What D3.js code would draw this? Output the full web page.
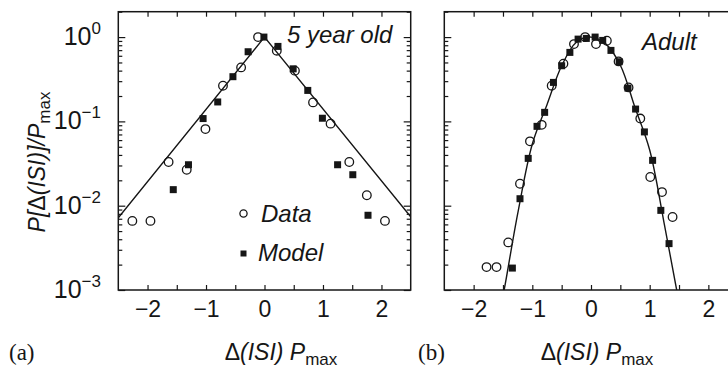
<!DOCTYPE html>
<html><head><meta charset="utf-8">
<script src="https://cdnjs.cloudflare.com/ajax/libs/d3/7.8.5/d3.min.js"></script>
<style>body{margin:0;background:#fff}svg{display:block}</style>
</head><body>
<svg id="c" width="728" height="369"></svg>
<script>
// ---------- data ----------
const xLabelTicks = [-2, -1, 0, 1, 2];
const xAllTicks = [-2, -1.5, -1, -0.5, 0, 0.5, 1, 1.5, 2];
const yDecades = [-3, -2, -1, 0];

// (a) 5 year old
const childDataX = [-2.26, -1.95, -1.64, -1.33, -1.01, -0.71, -0.40, -0.11, 0.21, 0.52, 0.83, 1.13, 1.45, 1.75, 2.06];
const childDataY = [0.0066, 0.0066, 0.033, 0.0267, 0.081, 0.265, 0.437, 1.0, 0.689, 0.40, 0.168, 0.094, 0.033, 0.0133, 0.0066];
const childModelX = [-1.56, -1.30, -1.05, -0.80, -0.54, -0.28, -0.01, 0.23, 0.49, 0.74, 0.99, 1.25, 1.51, 1.77];
const childModelY = [0.0155, 0.0306, 0.108, 0.170, 0.339, 0.67, 1.0, 0.775, 0.42, 0.233, 0.109, 0.0306, 0.0233, 0.0077];
const childFitX = [-2.5, 0, 2.5];
const childFitY = [0.0072, 1.0, 0.0074];

// (b) Adult
const adultDataX = [-1.78, -1.61, -1.41, -1.21, -1.04, -0.84, -0.67, -0.47, -0.29, -0.10, 0.085, 0.27, 0.47, 0.64, 0.84, 1.01, 1.21, 1.39];
const adultDataY = [0.00187, 0.00187, 0.00367, 0.0182, 0.058, 0.091, 0.265, 0.483, 0.826, 1.0, 0.826, 0.905, 0.515, 0.253, 0.108, 0.0219, 0.0145, 0.00734];
const adultModelX = [-1.34, -1.21, -1.07, -0.92, -0.79, -0.64, -0.50, -0.36, -0.22, -0.08, 0.07, 0.20, 0.34, 0.48, 0.63, 0.76, 0.91, 1.05, 1.19, 1.33];
const adultModelY = [0.00182, 0.0121, 0.0364, 0.0873, 0.128, 0.29, 0.457, 0.658, 0.946, 0.964, 1.0, 0.913, 0.695, 0.51, 0.248, 0.14, 0.075, 0.0345, 0.0088, 0.00355];
const adultFitX = [-1.58, -1.48, -1.25, -1.0, -0.75, -0.5, -0.25, 0, 0.25, 0.5, 0.75, 1.0, 1.25, 1.46, 1.56];
const adultFitY = [0.00045, 0.001, 0.008, 0.054, 0.158, 0.457, 0.87, 1.0, 0.83, 0.463, 0.146, 0.0457, 0.006, 0.001, 0.00045];

// ---------- drawing ----------
const INK = "#161616";
const SANS = "'Liberation Sans', Arial, Helvetica, sans-serif";
const SERIF = "'Liberation Serif', 'Times New Roman', serif";
const svg = d3.select("#c");
const yTop = 11.7, yBottom = 290;
const y = d3.scaleLog().domain([1e-3, 2]).range([yBottom, yTop]);

const yMinor = [];
yDecades.slice(0, 3).forEach(e => { for (let k = 2; k <= 9; k++) yMinor.push(k * Math.pow(10, e)); });
yMinor.push(2);
const yMajor = yDecades.map(e => Math.pow(10, e));

const defs = svg.append("defs");

function panel(id, x0, x1, dX, dY, mX, mY, fX, fY, curve) {
  const x = d3.scaleLinear().domain([-2.5, 2.5]).range([x0, x1]);
  const g = svg.append("g");
  defs.append("clipPath").attr("id", "clip" + id)
    .append("rect").attr("x", x0).attr("y", yTop).attr("width", x1 - x0).attr("height", yBottom - yTop);

  const gb = g.append("g").attr("transform", `translate(0,${yBottom})`)
    .call(d3.axisBottom(x).tickValues(xAllTicks).tickSize(-5).tickPadding(10)
      .tickFormat(d => Number.isInteger(d) ? d3.format("")(d) : ""));
  const gt = g.append("g").attr("transform", `translate(0,${yTop})`)
    .call(d3.axisTop(x).tickValues(xAllTicks).tickSize(-5).tickFormat(""));
  const gl = g.append("g").attr("transform", `translate(${x0},0)`)
    .call(d3.axisLeft(y).tickValues(yMajor).tickSize(-7).tickFormat(""));
  const gl2 = g.append("g").attr("transform", `translate(${x0},0)`)
    .call(d3.axisLeft(y).tickValues(yMinor).tickSize(-4).tickFormat(""));
  const gr = g.append("g").attr("transform", `translate(${x1},0)`)
    .call(d3.axisRight(y).tickValues(yMajor).tickSize(-7).tickFormat(""));
  const gr2 = g.append("g").attr("transform", `translate(${x1},0)`)
    .call(d3.axisRight(y).tickValues(yMinor).tickSize(-4).tickFormat(""));
  [gb, gt, gl, gl2, gr, gr2].forEach(a => {
    a.select(".domain").remove();
    a.selectAll("line").attr("stroke", INK).attr("stroke-width", 1.2);
  });
  gb.selectAll("text").attr("fill", INK).attr("font-family", SANS).attr("font-size", 23).attr("dy", "0.72em");

  g.append("rect").attr("x", x0).attr("y", yTop).attr("width", x1 - x0).attr("height", yBottom - yTop)
    .attr("fill", "none").attr("stroke", INK).attr("stroke-width", 1.5);

  const pts = fX.map((v, i) => [v, fY[i]]);
  g.append("path").datum(pts).attr("clip-path", `url(#clip${id})`)
    .attr("d", d3.line().x(d => x(d[0])).y(d => y(d[1])).curve(curve))
    .attr("fill", "none").attr("stroke", INK).attr("stroke-width", 1.4);

  const sq = 7;
  g.selectAll(".sq").data(mX.map((v, i) => [v, mY[i]])).join("rect")
    .attr("x", d => x(d[0]) - sq / 2).attr("y", d => y(d[1]) - sq / 2)
    .attr("width", sq).attr("height", sq).attr("fill", INK);
  g.selectAll(".ci").data(dX.map((v, i) => [v, dY[i]])).join("circle")
    .attr("cx", d => x(d[0])).attr("cy", d => y(d[1])).attr("r", 4.3)
    .attr("fill", "none").attr("stroke", INK).attr("stroke-width", 1.3);
  return { g, x };
}

panel("a", 118.3, 410.7, childDataX, childDataY, childModelX, childModelY, childFitX, childFitY, d3.curveLinear);
panel("b", 444.3, 737.7, adultDataX, adultDataY, adultModelX, adultModelY, adultFitX, adultFitY, d3.curveCatmullRom);

yMajor.forEach((v, i) => {
  const t = svg.append("text").attr("x", 101).attr("y", y(v) + 8)
    .attr("text-anchor", "end").attr("font-family", SANS).attr("font-size", 25).attr("fill", INK);
  t.append("tspan").text("10");
  t.append("tspan").attr("dy", -11).attr("font-size", 17).text(yDecades[i] === 0 ? "0" : "\u2212" + Math.abs(yDecades[i]));
});

svg.append("text").attr("x", 287).attr("y", 43).attr("font-family", SANS).attr("font-style", "italic")
  .attr("font-size", 24).attr("fill", INK).text("5 year old");
svg.append("text").attr("x", 642).attr("y", 50).attr("font-family", SANS).attr("font-style", "italic")
  .attr("font-size", 24).attr("fill", INK).text("Adult");

svg.append("circle").attr("cx", 243.5).attr("cy", 213.5).attr("r", 3.6)
  .attr("fill", "none").attr("stroke", INK).attr("stroke-width", 1.3);
svg.append("text").attr("x", 261).attr("y", 222).attr("font-family", SANS).attr("font-style", "italic")
  .attr("font-size", 24).attr("fill", INK).text("Data");
svg.append("rect").attr("x", 240.5).attr("y", 250.5).attr("width", 6).attr("height", 6).attr("fill", INK);
svg.append("text").attr("x", 258).attr("y", 261).attr("font-family", SANS).attr("font-style", "italic")
  .attr("font-size", 24).attr("fill", INK).text("Model");

function xTitle(cx) {
  const t = svg.append("text").attr("x", cx).attr("y", 360).attr("text-anchor", "middle")
    .attr("font-family", SANS).attr("font-size", 23).attr("fill", INK);
  t.append("tspan").text("\u0394");
  t.append("tspan").attr("font-style", "italic").text("(ISI) P");
  t.append("tspan").attr("font-size", 17).attr("dy", 5).text("max");
}
xTitle(281);
xTitle(597);

svg.append("text").attr("x", 9).attr("y", 360).attr("font-family", SERIF).attr("font-size", 23).attr("fill", INK).text("(a)");
svg.append("text").attr("x", 418).attr("y", 360).attr("font-family", SERIF).attr("font-size", 23).attr("fill", INK).text("(b)");

const yt = svg.append("text").attr("transform", "translate(45,162) rotate(-90)").attr("text-anchor", "middle")
  .attr("font-family", SANS).attr("font-size", 23).attr("fill", INK);
yt.append("tspan").attr("font-style", "italic").text("P[");
yt.append("tspan").text("\u0394");
yt.append("tspan").attr("font-style", "italic").text("(ISI)]/P");
yt.append("tspan").attr("font-size", 17).attr("dy", 5).text("max");
</script>
</body></html>
